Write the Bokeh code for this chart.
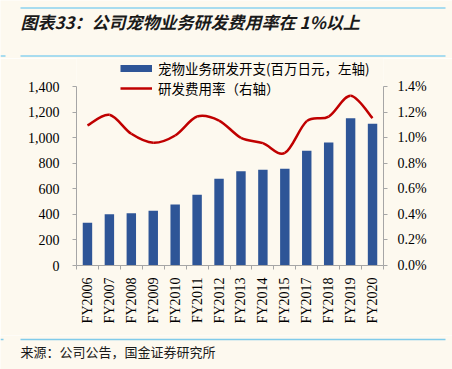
import math
import numpy as np
from bokeh.plotting import figure
from bokeh.layouts import column
from bokeh.models import (Range1d, LinearAxis, FixedTicker, NumeralTickFormatter,
                          PrintfTickFormatter, Legend, LegendItem, Label)
from bokeh.embed import file_html
from bokeh.resources import INLINE

# ---------------- data ----------------
categories = ["FY2006", "FY2007", "FY2008", "FY2009", "FY2010", "FY2011", "FY2012",
              "FY2013", "FY2014", "FY2015", "FY2017", "FY2018", "FY2019", "FY2020"]
rd_spend = [334, 401, 409, 428, 477, 553, 678, 738, 748, 756, 897, 962, 1152, 1108]
rd_ratio_pct = [1.095, 1.179, 1.03, 0.96, 1.017, 1.165, 1.134, 0.999, 0.957, 0.88,
                1.129, 1.165, 1.327, 1.152]
left_ticks = [0, 200, 400, 600, 800, 1000, 1200, 1400]
right_ticks = [0.0, 0.2, 0.4, 0.6, 0.8, 1.0, 1.2, 1.4]
title_text = "图表33：公司宠物业务研发费用率在 1%以上"
bar_label = "宠物业务研发开支(百万日元，左轴)"
line_label = "研发费用率（右轴）"
source_text = "来源：公司公告，国金证券研究所"

# ---------------- style ----------------
BG = "#FDF9EF"
BAR = "#2E5597"
RED = "#C00000"
AXIS = "#A6A6A6"
RULE = "#52BFEF"
RULE2 = "#80CBEA"
SERIF = "Liberation Serif"
CJK = "Noto Sans CJK SC"
W = 452

def blank_fig(h):
    # frame covers the whole figure; y measured upward from the figure bottom
    f = figure(width=W, height=h, output_backend="svg", toolbar_location=None,
               x_range=Range1d(0, W), y_range=Range1d(0, h),
               x_axis_location=None, y_axis_location=None,
               min_border=0, min_border_left=0, min_border_right=0,
               min_border_top=0, min_border_bottom=0, frame_align=False,
               background_fill_color=BG, border_fill_color=BG)
    f.outline_line_color = None
    f.grid.visible = False
    return f

# ---------------- header ----------------
TOP_H = 58
top = blank_fig(TOP_H)
def ty(page_y):
    return TOP_H - page_y
top.segment(x0=[20, 20, 0], y0=[ty(7.5), ty(55.5), ty(55.5)],
            x1=[445, 445, 5], y1=[ty(7.5), ty(55.5), ty(55.5)],
            line_color=RULE, line_width=1)
top.add_layout(Label(x=20, y=ty(20.5), text=title_text, text_font=CJK,
                     text_font_size="17px", text_font_style="bold italic",
                     text_color="#1A1A1A", text_baseline="middle", text_align="left"))

# ---------------- main chart ----------------
MAIN_H = 277
n = len(categories)
xs = list(range(n))
frame_top_px, px_1400, px_0 = 58, 86, 265          # page pixel geometry
ymax = 1400 * (px_0 - frame_top_px) / (px_0 - px_1400)
rmax = 1.4 * (px_0 - frame_top_px) / (px_0 - px_1400)

p = figure(width=W, height=MAIN_H, output_backend="svg", toolbar_location=None,
           x_range=Range1d(-0.5, n - 0.5), y_range=Range1d(0, ymax),
           min_border_left=76, min_border_right=W - 383, min_border_top=0,
           min_border_bottom=MAIN_H - (px_0 - frame_top_px), frame_align=False,
           background_fill_color=BG, border_fill_color=BG)
p.outline_line_color = None
p.xgrid.visible = False
p.ygrid.visible = False
p.extra_y_ranges = {"pct": Range1d(0, rmax)}

p.vbar(x=xs, top=rd_spend, width=0.43, fill_color=BAR, line_color=None)

# smoothed ratio line: cubic bezier segments through the data points
bx0, by0, bx1, by1, bcx0, bcy0, bcx1, bcy1 = [], [], [], [], [], [], [], []
r = rd_ratio_pct
for i in range(n - 1):
    pm = i - 1 if i > 0 else i
    pp = i + 2 if i + 2 < n else i + 1
    bx0.append(xs[i]); by0.append(r[i])
    bx1.append(xs[i + 1]); by1.append(r[i + 1])
    bcx0.append(xs[i] + (xs[i + 1] - xs[pm]) / 6.0)
    bcy0.append(r[i] + (r[i + 1] - r[pm]) / 6.0)
    bcx1.append(xs[i + 1] - (xs[pp] - xs[i]) / 6.0)
    bcy1.append(r[i + 1] - (r[pp] - r[i]) / 6.0)
p.bezier(x0=bx0, y0=by0, x1=bx1, y1=by1, cx0=bcx0, cy0=bcy0, cx1=bcx1, cy1=bcy1,
         line_color=RED, line_width=2.5, y_range_name="pct")

xa = p.xaxis[0]
xa.ticker = FixedTicker(ticks=xs, minor_ticks=[i - 0.5 for i in range(n + 1)])
xa.major_label_overrides = {i: c for i, c in enumerate(categories)}
xa.major_tick_in = 0
xa.major_tick_out = 0
xa.minor_tick_in = 0
xa.minor_tick_out = 4
xa.minor_tick_line_color = AXIS
xa.axis_line_color = AXIS
xa.major_label_orientation = math.pi / 2
xa.major_label_standoff = 8
xa.major_label_text_font = SERIF
xa.major_label_text_font_size = "14px"
xa.major_label_text_color = "#000000"

ya = p.yaxis[0]
ya.ticker = FixedTicker(ticks=left_ticks)
ya.bounds = (0, 1400)
ya.formatter = NumeralTickFormatter(format="0,0")
ya.minor_tick_line_color = None
ya.major_tick_in = 0
ya.major_tick_out = 4
ya.major_tick_line_color = AXIS
ya.axis_line_color = AXIS
ya.major_label_standoff = 13
ya.major_label_text_font = SERIF
ya.major_label_text_font_size = "14px"
ya.major_label_text_color = "#000000"

ra = LinearAxis(y_range_name="pct", ticker=FixedTicker(ticks=right_ticks),
                formatter=PrintfTickFormatter(format="%.1f%%"), bounds=(0, 1.4))
ra.minor_tick_line_color = None
ra.major_tick_in = 0
ra.major_tick_out = 4
ra.major_tick_line_color = AXIS
ra.axis_line_color = AXIS
ra.major_label_standoff = 10
ra.major_label_text_font = SERIF
ra.major_label_text_font_size = "14px"
ra.major_label_text_color = "#000000"
p.add_layout(ra, "right")

# legend swatches (empty-data renderers used only for the legend)
sw_bar = p.line(x=[np.nan], y=[np.nan], line_color=BAR, line_width=7)
sw_line = p.line(x=[np.nan], y=[np.nan], line_color=RED, line_width=2.5)
legend = Legend(items=[LegendItem(label=bar_label, renderers=[sw_bar]),
                       LegendItem(label=line_label, renderers=[sw_line])],
                location=(44, 167), orientation="vertical",
                glyph_width=32, glyph_height=16, label_height=16, spacing=0,
                padding=0, margin=0, label_standoff=6,
                background_fill_alpha=0, border_line_color=None,
                label_text_font=CJK, label_text_font_size="13.5px",
                label_text_color="#000000")
p.add_layout(legend, "center")

# ---------------- footer ----------------
BOT_Y0 = TOP_H + MAIN_H
BOT_H = 369 - BOT_Y0
bot = blank_fig(BOT_H)
def by(page_y):
    return BOT_H - (page_y - BOT_Y0)
bot.segment(x0=[20, 0], y0=[by(339), by(339)], x1=[445, 3], y1=[by(339), by(339)],
            line_color=RULE2, line_width=1.5)
bot.add_layout(Label(x=20, y=by(351), text=source_text, text_font=CJK,
                     text_font_size="13px", text_color="#1A1A1A",
                     text_baseline="middle", text_align="left"))

layout = column(top, p, bot, spacing=0)
html = file_html(layout, INLINE)
open("out.html", "w").write(html)
